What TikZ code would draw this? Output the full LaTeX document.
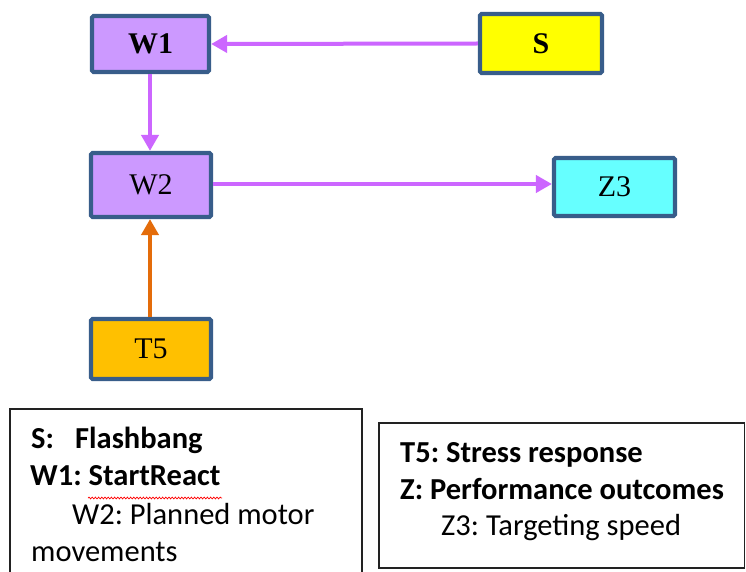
\documentclass[tikz,border=0pt]{standalone}
\usepackage{fontspec}
\setmainfont{Liberation Serif}
\newfontfamily\legendfont{Carlito}
\usetikzlibrary{arrows.meta,decorations.pathmorphing}
\definecolor{bord}{HTML}{385D8A}
\definecolor{purpfill}{HTML}{CC99FF}
\definecolor{purparrow}{HTML}{CC66FF}
\definecolor{yelfill}{HTML}{FFFF00}
\definecolor{cyanfill}{HTML}{66FFFF}
\definecolor{orfill}{HTML}{FFC000}
\definecolor{orarrow}{HTML}{E46C0A}
\definecolor{legline}{HTML}{222222}
\frenchspacing
\begin{document}
\begin{tikzpicture}[x=1pt,y=-1pt,
  box/.style={draw=bord,line width=4.2pt,rounded corners=1.5pt,inner sep=0pt,
    font=\fontsize{30}{32}\selectfont},
  parrow/.style={draw=purparrow,line width=4pt,-{Triangle[length=16pt,width=17pt]}},
  oarrow/.style={draw=orarrow,line width=4pt,-{Triangle[length=16pt,width=17pt]}},
  leg/.style={anchor=base west,inner sep=0pt,font=\legendfont\fontsize{30.5}{36}\selectfont},
  legbox/.style={draw=legline,line width=1.5pt}]
\useasboundingbox (0,0) rectangle (746,572);
\fill[white] (0,0) rectangle (746,572);
% boxes
\node[box,fill=purpfill,minimum width=117pt,minimum height=56pt] (W1) at (150.5,44) {\bfseries W1};
\node[box,fill=yelfill,minimum width=122pt,minimum height=59pt] (S) at (541,43.5) {\bfseries S};
\node[box,fill=purpfill,minimum width=120pt,minimum height=64pt] (W2) at (151,185) {W2};
\node[box,fill=cyanfill,minimum width=121pt,minimum height=58pt] (Z3) at (614.5,187) {Z3};
\node[box,fill=orfill,minimum width=120pt,minimum height=60pt] (T5) at (151,349) {T5};
% connectors
\draw[parrow] (S.west) -- (W1.east);
\draw[parrow] (W1.south -| 150,0) -- (W2.north -| 150,0);
\draw[parrow] (W2.east |- 0,184) -- (Z3.west |- 0,184);
\draw[oarrow] (T5.north -| 150,0) -- (W2.south -| 150,0);
% legend boxes
\draw[legbox] (10,574) -- (10,409) -- (362,409) -- (362,574);
\draw[legbox] (379,423) rectangle (744.5,568);
% legend text
\node[leg] (l1) at (31,448) {\bfseries\makebox[44pt][l]{S:}Flashbang};
\node[leg] (l2) at (30,485) {\bfseries W1:\hspace{7pt}StartReact};
\node[leg] (l3) at (72,524) {W2: Planned motor};
\node[leg] (l4) at (31,561) {movements};
\node[leg] (r1) at (400,462) {\bfseries T5: Stress response};
\node[leg] (r2) at (400,499) {\bfseries Z: Performance outcomes};
\node[leg] (r3) at (441,535) {Z3: Targeting speed};
\draw[red,line width=0.7pt,decorate,decoration={snake,amplitude=0.9pt,segment length=3.2pt}] (88,498) -- (222,498);
\end{tikzpicture}
\end{document}
